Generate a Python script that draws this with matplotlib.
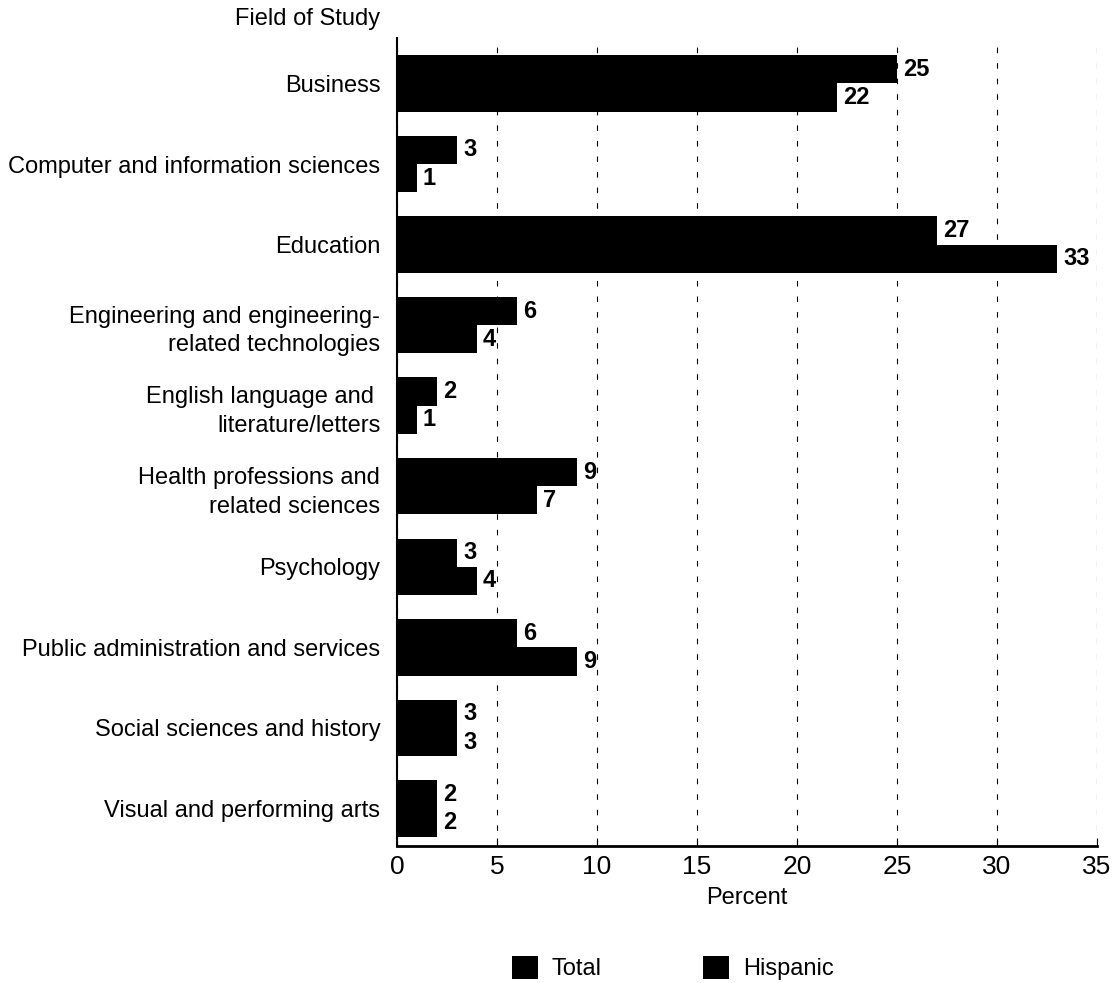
import numpy as np
import matplotlib
matplotlib.use('Agg')
import matplotlib.pyplot as plt

# 数据
fields = ['Business', 'Computer and information sciences', 'Education',
          'Engineering and engineering-\nrelated technologies',
          'English language and \nliterature/letters',
          'Health professions and\nrelated sciences', 'Psychology',
          'Public administration and services', 'Social sciences and history',
          'Visual and performing arts']
total = [25, 3, 27, 6, 2, 9, 3, 6, 3, 2]
hispanic = [22, 1, 33, 4, 1, 7, 4, 9, 3, 2]

plt.rcParams['font.family'] = ['Liberation Sans', 'DejaVu Sans']

fig = plt.figure(figsize=(11.16, 9.83), dpi=100)
ax = fig.add_axes([0.3557, 0.139, 0.6273, 0.822])

y = np.arange(len(fields))
h = 0.35
b1 = ax.barh(y - h / 2, total, height=h, color='black', label='Total')
b2 = ax.barh(y + h / 2, hispanic, height=h, color='black', label='Hispanic')

for bars, vals in ((b1, total), (b2, hispanic)):
    for bar, v in zip(bars, vals):
        ax.text(v + 0.3, bar.get_y() + bar.get_height() / 2, str(v),
                va='center', ha='left', fontsize=17, fontweight='bold')

ax.set_xlim(0, 35)
ax.set_ylim(len(fields) - 0.53, -0.56)
ax.set_xticks(range(0, 36, 5))
ax.set_yticks(y)
ax.set_yticklabels(fields, fontsize=17, linespacing=1.4)
ax.tick_params(axis='y', length=0, pad=12)
ax.tick_params(axis='x', direction='in', length=6, labelsize=19, pad=6)
ax.xaxis.grid(True, linestyle=(0, (5, 9)), color='black', linewidth=0.8)
ax.set_axisbelow(True)
for s in ['top', 'right']:
    ax.spines[s].set_visible(False)
ax.spines['left'].set_linewidth(1.5)
ax.spines['bottom'].set_linewidth(2)

ax.set_xlabel('Percent', fontsize=17, labelpad=6)
fig.text(0.341, 0.981, 'Field of Study', ha='right', va='center', fontsize=17)

fig.legend(handles=[b1, b2], loc='center', bbox_to_anchor=(0.603, 0.015),
           ncol=2, frameon=False, fontsize=17, handlelength=1.1,
           handleheight=1.1, columnspacing=4.3, handletextpad=0.6)

fig.savefig('out.png', dpi=100)
